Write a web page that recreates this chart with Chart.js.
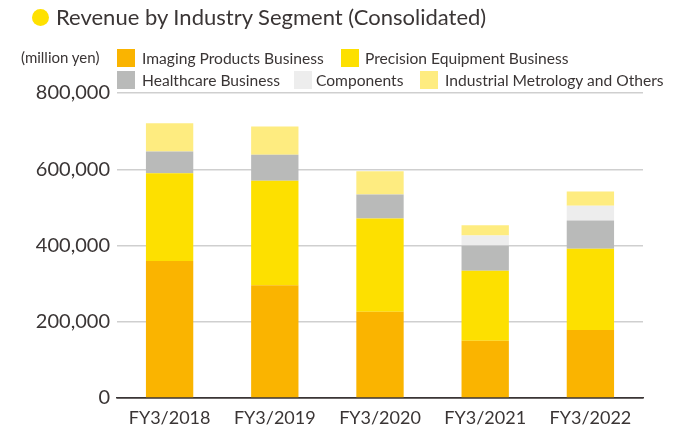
<!DOCTYPE html>
<html>
<head>
<meta charset="utf-8">
<script src="https://cdn.jsdelivr.net/npm/chart.js@4/dist/chart.umd.min.js"></script>
<style>
  body { margin: 0; background: #fff; font-family: Lato, "Noto Sans", sans-serif; color: #3a3535; }
  #wrap { position: relative; width: 686px; height: 425px; }
  #chart { position: absolute; left: 0; top: 0; }
  .title { position: absolute; left: 56px; top: 3px; font-size: 22px; white-space: nowrap; }
  .dot { position: absolute; left: 32px; top: 9px; width: 17px; height: 17px; border-radius: 50%; background: #FFE100; }
  .unit { position: absolute; left: 21px; top: 48px; font-size: 15px; white-space: nowrap; }
  .lg-box { position: absolute; width: 18px; height: 18px; }
  .lg-txt { position: absolute; font-size: 15.6px; white-space: nowrap; line-height: 18px; }
</style>
</head>
<body>
<div id="wrap">
  <canvas id="chart" width="686" height="425"></canvas>
  <div class="dot"></div>
  <div class="title">Revenue by Industry Segment (Consolidated)</div>
  <div class="unit">(million yen)</div>
  <div id="legend"></div>
</div>
<script>
// million yen
const categories = ['FY3/2018', 'FY3/2019', 'FY3/2020', 'FY3/2021', 'FY3/2022'];
const imaging    = [359500, 296000, 226000, 150000, 178500];
const precision  = [230000, 274000, 245000, 184000, 213000];
const healthcare = [57000, 68000, 63000, 66000, 74000];
const components = [null, null, null, 26000, 39000];
const industrial = [74000, 74000, 61000, 27000, 37000];
const yTicks = [0, 200000, 400000, 600000, 800000];

const seriesNames = ['Imaging Products Business', 'Precision Equipment Business', 'Healthcare Business', 'Components', 'Industrial Metrology and Others'];
const seriesColors = ['#FAB400', '#FDE000', '#B9BAB9', '#EDEDED', '#FEEC80'];
const seriesData = [imaging, precision, healthcare, components, industrial];

// legend placement: [boxLeft, textLeft, top]
const legendPos = [[117, 142, 49], [341, 365, 49], [117, 142, 71], [294, 316, 71], [420, 445, 71]];

const lg = document.getElementById('legend');
seriesNames.forEach((name, i) => {
    const [bx, tx, ty] = legendPos[i];
    const b = document.createElement('div');
    b.className = 'lg-box';
    b.style.left = bx + 'px'; b.style.top = ty + 'px';
    b.style.background = seriesColors[i];
    lg.appendChild(b);
    const t = document.createElement('div');
    t.className = 'lg-txt';
    t.style.left = tx + 'px'; t.style.top = ty + 'px';
    t.textContent = name;
    lg.appendChild(t);
});

const dark = '#3a3535';

new Chart(document.getElementById('chart').getContext('2d'), {
    type: 'bar',
    data: {
        labels: categories,
        datasets: seriesNames.map((name, i) => ({
            label: name,
            data: seriesData[i],
            backgroundColor: seriesColors[i],
            barPercentage: 0.45,
            categoryPercentage: 1.0
        }))
    },
    options: {
        responsive: false,
        animation: false,
        layout: { padding: { top: 93, right: 43, left: 0, bottom: 0 } },
        plugins: {
            legend: { display: false },
            tooltip: { enabled: false }
        },
        scales: {
            x: {
                stacked: true,
                grid: { display: false },
                border: { display: true, color: dark, width: 1.5 },
                ticks: { color: dark, font: { family: 'Lato', size: 18 }, padding: 1 },
                afterFit: s => { s.height = 27; }
            },
            y: {
                stacked: true,
                min: 0,
                max: 800000,
                afterBuildTicks: s => { s.ticks = yTicks.map(v => ({ value: v })); },
                grid: {
                    color: c => c.tick && c.tick.value === 0 ? dark : '#CFCFCF',
                    lineWidth: 1.5,
                    drawTicks: false
                },
                border: { display: false },
                ticks: {
                    color: dark,
                    padding: 7,
                    font: { family: 'Lato', size: 20 },
                    callback: v => v.toLocaleString('en-US')
                },
                afterFit: s => { s.width = 117; }
            }
        }
    }
});
</script>
</body>
</html>
